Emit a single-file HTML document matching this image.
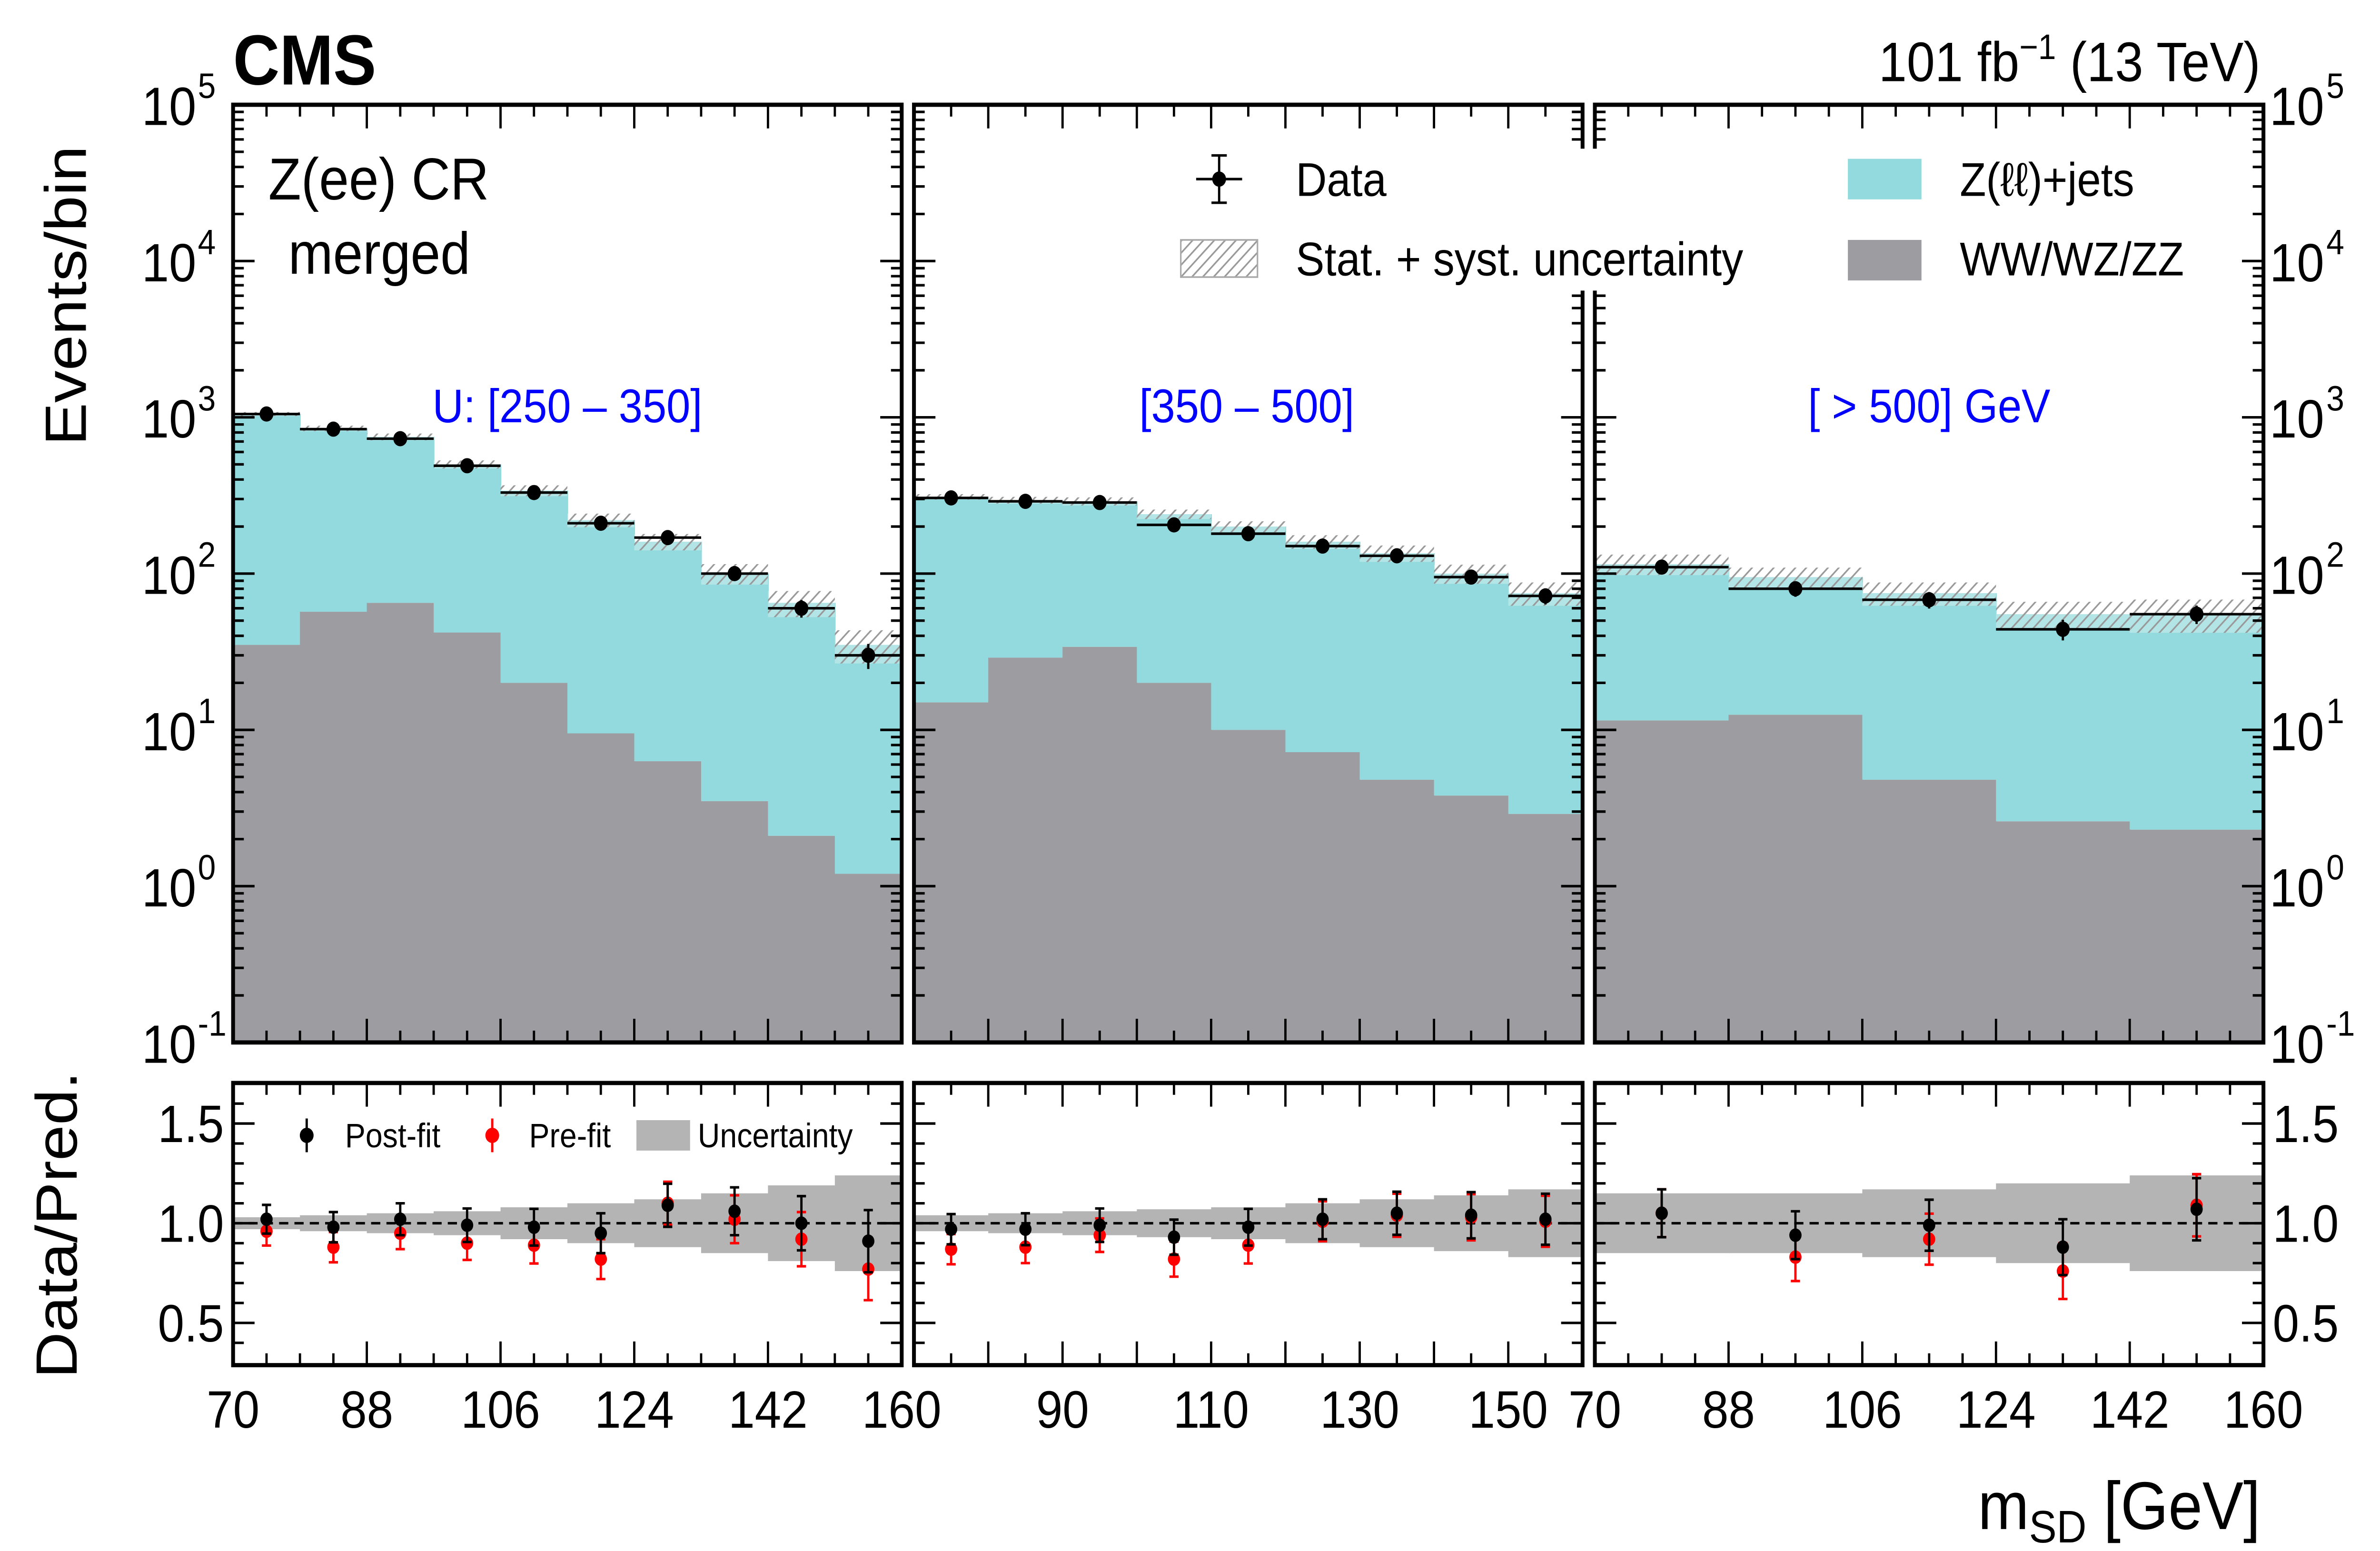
<!DOCTYPE html>
<html><head><meta charset="utf-8">
<style>
html,body{margin:0;padding:0;background:#fff;width:100%;height:100%;overflow:hidden}
svg{position:fixed;left:0;top:0;width:100vw;height:100vh;display:block;font-family:"Liberation Sans",sans-serif}
</style></head><body>
<svg id="c" xmlns="http://www.w3.org/2000/svg" viewBox="0 0 1552 918" preserveAspectRatio="none">
<defs>
<pattern id="hatch" patternUnits="userSpaceOnUse" width="5" height="5" patternTransform="rotate(45)">
<rect width="5" height="5" fill="#fff" fill-opacity="0.3"/><line x1="0" y1="0" x2="0" y2="5" stroke="#999" stroke-width="2"/></pattern>
</defs>
<g id="g"></g>
</svg>
<script>
// ---- data ----
const p1Total=[1050,850,750,500,340,220,160,100,65,35];
const p1VV=[35,57,65,42,20,9.5,6.3,3.5,2.1,1.2];
const p1Data=[1050,840,730,490,330,210,170,100,60,30];
const p1Post=[1.02,0.98,1.02,0.99,0.98,0.95,1.09,1.06,1.0,0.91];
const p1Pre=[0.96,0.88,0.95,0.9,0.89,0.82,1.1,1.02,0.92,0.77];
const p1Unc=[0.03,0.04,0.05,0.06,0.08,0.1,0.12,0.15,0.19,0.24];
const p2Total=[310,295,290,240,200,160,135,100,75];
const p2VV=[15,29,34,20,10,7.2,4.8,3.8,2.9];
const p2Data=[305,290,285,205,180,150,130,95,72];
const p2Post=[0.97,0.97,0.99,0.93,0.98,1.02,1.05,1.04,1.02];
const p2Pre=[0.87,0.88,0.94,0.82,0.89,1.01,1.04,1.03,1.01];
const p2Unc=[0.04,0.05,0.06,0.07,0.08,0.1,0.12,0.14,0.17];
const p3Total=[115,95,75,55,55];
const p3VV=[11.5,12.5,4.8,2.6,2.3];
const p3Data=[110,80,68,44,55];
const p3Post=[1.05,0.94,0.99,0.88,1.07];
const p3Pre=[1.05,0.83,0.92,0.76,1.09];
const p3Unc=[0.15,0.15,0.17,0.2,0.24];
const p1Ticks=[70,88,106,124,142,160];
const p2Ticks=[90,110,130,150];
const p3Ticks=[70,88,106,124,142,160];
// ---- layout ----
const NS="http://www.w3.org/2000/svg";
const G=document.getElementById('g');
function el(t,a,txt){const e=document.createElementNS(NS,t);for(const k in a)e.setAttribute(k,a[k]);if(txt!==undefined)e.textContent=txt;G.appendChild(e);return e;}
const YT=62,YB=617,RT=641,RB=808;
function yLog(v){return YB-(Math.log10(v)+1)*(YB-YT)/6;}
function yR(r){return 724-(r-1)*118;}
const panels=[
 {x0:152,x1:588,tot:p1Total,vv:p1VV,dat:p1Data,post:p1Post,pre:p1Pre,unc:p1Unc,ticks:p1Ticks},
 {x0:596,x1:1032,tot:p2Total,vv:p2VV,dat:p2Data,post:p2Post,pre:p2Pre,unc:p2Unc,ticks:p2Ticks},
 {x0:1040,x1:1476,tot:p3Total,vv:p3VV,dat:p3Data,post:p3Post,pre:p3Pre,unc:p3Unc,ticks:p3Ticks}];
panels.forEach((p,pi)=>{
 const n=p.tot.length,w=(p.x1-p.x0)/n;
 const xm=v=>p.x0+(v-70)/90*(p.x1-p.x0);
 for(let i=0;i<n;i++){
  const xa=p.x0+i*w;
  let r=el('rect',{x:xa,y:yLog(p.vv[i]),width:w+0.5,height:YB-yLog(p.vv[i]),fill:'#9c9ca1'});
  
  r=el('rect',{x:xa,y:yLog(p.tot[i]),width:w+0.5,height:yLog(p.vv[i])-yLog(p.tot[i]),fill:'#92dadd'});
  
  const hu=p.tot[i]*(1+p.unc[i]),hl=p.tot[i]*(1-p.unc[i]);
  r=el('rect',{x:xa,y:yLog(hu),width:w,height:yLog(hl)-yLog(hu),fill:'url(#hatch)'});
  
  const d=p.dat[i],e=Math.sqrt(d),cx=xa+w/2,cy=yLog(d);
  el('line',{x1:xa,x2:xa+w,y1:cy,y2:cy,stroke:'#000','stroke-width':1.5});
  el('line',{x1:cx,x2:cx,y1:yLog(d+e),y2:yLog(d-e),stroke:'#000','stroke-width':1.5});
  const c=el('circle',{cx:cx,cy:cy,r:4.5,fill:'#000'});
  
  r=el('rect',{x:xa,y:yR(1+p.unc[i]),width:w+0.5,height:yR(1-p.unc[i])-yR(1+p.unc[i]),fill:'#b4b4b4'});
  
 }
 el('line',{x1:p.x0,x2:p.x1,y1:yR(1),y2:yR(1),stroke:'#000','stroke-width':1.5,'stroke-dasharray':'6,4'});
 for(let i=0;i<n;i++){
  const cx=p.x0+(i+0.5)*w,er=0.06+p.unc[i]*0.4;
  [[p.pre[i],'#f00','prefit-point'],[p.post[i],'#000','postfit-point']].forEach(([v,col,nm])=>{
   el('line',{x1:cx,x2:cx,y1:yR(v+er),y2:yR(v-er),stroke:col,'stroke-width':1.5});
   el('line',{x1:cx-3,x2:cx+3,y1:yR(v+er),y2:yR(v+er),stroke:col,'stroke-width':1.5});
   el('line',{x1:cx-3,x2:cx+3,y1:yR(v-er),y2:yR(v-er),stroke:col,'stroke-width':1.5});
   const c=el('circle',{cx:cx,cy:yR(v),r:4,fill:col});
   
  });
 }
 el('rect',{x:p.x0,y:YT,width:p.x1-p.x0,height:YB-YT,fill:'none',stroke:'#000','stroke-width':2.5});
 el('rect',{x:p.x0,y:RT,width:p.x1-p.x0,height:RB-RT,fill:'none',stroke:'#000','stroke-width':2.5});
 for(let v=70;v<=160;v+=(pi==1?5:4.5)){
  const x=xm(v),maj=pi==1?(v%10==0):(Math.abs(((v-70)/18)-Math.round((v-70)/18))<1e-6);
  const L=maj?14:7;
  el('line',{x1:x,x2:x,y1:YB,y2:YB-L,stroke:'#000','stroke-width':1.5});
  el('line',{x1:x,x2:x,y1:RB,y2:RB-L,stroke:'#000','stroke-width':1.5});
  el('line',{x1:x,x2:x,y1:YT,y2:YT+L,stroke:'#000','stroke-width':1.5});
  el('line',{x1:x,x2:x,y1:RT,y2:RT+L,stroke:'#000','stroke-width':1.5});
 }
 p.ticks.forEach(v=>{const t=el('text',{x:xm(v),y:845,'font-size':31,'text-anchor':'middle'},String(v));
  });
 for(let d=-1;d<5;d++)for(let m=1;m<10;m++){
  const y=yLog(m*Math.pow(10,d)),L=m==1?14:7;
  el('line',{x1:p.x0,x2:p.x0+L,y1:y,y2:y,stroke:'#000','stroke-width':1.5});
  el('line',{x1:p.x1,x2:p.x1-L,y1:y,y2:y,stroke:'#000','stroke-width':1.5});
 }
 for(let r=0.4;r<1.75;r+=0.1){const y=yR(r),maj=Math.abs(r*2-Math.round(r*2))<1e-6,L=maj?14:7;
  el('line',{x1:p.x0,x2:p.x0+L,y1:y,y2:y,stroke:'#000','stroke-width':1.5});
  el('line',{x1:p.x1,x2:p.x1-L,y1:y,y2:y,stroke:'#000','stroke-width':1.5});}
});
for(let d=-1;d<=5;d++){const y=yLog(Math.pow(10,d));
 let t=el('text',{x:128,y:y+12,'font-size':32,'text-anchor':'end'},'10');
 el('text',{x:129,y:y-4,'font-size':21},String(d));
 t=el('text',{x:1480,y:y+12,'font-size':32},'10');
 el('text',{x:1517,y:y-4,'font-size':21},String(d));}
[1.5,1.0,0.5].forEach(v=>{
 el('text',{x:146,y:yR(v)+11,'font-size':31,'text-anchor':'end'},v.toFixed(1));
 el('text',{x:1482,y:yR(v)+11,'font-size':31},v.toFixed(1));});
</script>
<script>
(function(){
const NS="http://www.w3.org/2000/svg",G=document.getElementById('g');
function t(x,y,s,txt,nm,extra){const e=document.createElementNS(NS,'text');e.setAttribute('x',x);e.setAttribute('y',y);e.setAttribute('font-size',s);
 for(const k in (extra||{}))e.setAttribute(k,extra[k]);e.textContent=txt;
 
 
 G.appendChild(e);return e;}
function r(x,y,w,h,f,nm){const e=document.createElementNS(NS,'rect');e.setAttribute('x',x);e.setAttribute('y',y);e.setAttribute('width',w);e.setAttribute('height',h);e.setAttribute('fill',f);
 
 
 G.appendChild(e);return e;}
function l(x1,y1,x2,y2,c){const e=document.createElementNS(NS,'line');e.setAttribute('x1',x1);e.setAttribute('y1',y1);e.setAttribute('x2',x2);e.setAttribute('y2',y2);e.setAttribute('stroke',c);e.setAttribute('stroke-width',1.5);G.appendChild(e);}
function c(x,y,col){const e=document.createElementNS(NS,'circle');e.setAttribute('cx',x);e.setAttribute('cy',y);e.setAttribute('r',4.5);e.setAttribute('fill',col);G.appendChild(e);}
t(152,50,42,'CMS','cms-label',{'font-weight':'bold'});
t(1474,48,33,'','lumi-label',{'text-anchor':'end'}).innerHTML='101 fb<tspan font-size="21" dy="-13">−1</tspan><tspan dy="13"> (13 TeV)</tspan>';
t(56,175,38,'Events/bin','y-axis-title',{'text-anchor':'middle',transform:'rotate(-90 56 175)'});
t(50,725,38,'Data/Pred.','ratio-axis-title',{'text-anchor':'middle',transform:'rotate(-90 50 725)'});
t(1474,905,40,'','x-axis-title',{'text-anchor':'end'}).innerHTML='m<tspan font-size="27" dy="8">SD</tspan><tspan dy="-8"> [GeV]</tspan>';
t(175,118,35,'Z(ee) CR','region-label');
t(188,162,35,'merged','category-label');
t(370,250,28,'U: [250 – 350]','bin-label-1',{'text-anchor':'middle',fill:'#0000ff'});
t(813,250,28,'[350 – 500]','bin-label-2',{'text-anchor':'middle',fill:'#0000ff'});
t(1258,250,28,'[ > 500] GeV','bin-label-3',{'text-anchor':'middle',fill:'#0000ff'});
r(765,88,410,84,'#fff','legend-background');
r(1190,88,270,84,'#fff','legend-background-2');
l(780,106,810,106,'#000');l(795,92,795,120,'#000');l(790,92,800,92,'#000');l(790,120,800,120,'#000');c(795,106,'#000');
t(845,116,28,'Data','legend-data');
const h=r(770,142,50,22,'url(#hatch)','legend-unc-swatch');h.setAttribute('stroke','#aaa');
t(845,163,28,'Stat. + syst. uncertainty','legend-unc');
r(1205,94,48,24,'#92dadd','legend-zll-swatch');t(1278,116,28,'Z(ℓℓ)+jets','legend-zll');
r(1205,142,48,24,'#9c9ca1','legend-vv-swatch');t(1278,163,28,'WW/WZ/ZZ','legend-vv');
l(200,662,200,682,'#000');c(200,672,'#000');t(225,679,20,'Post-fit','legend-postfit');
l(321,662,321,682,'#f00');c(321,672,'#f00');t(345,679,20,'Pre-fit','legend-prefit');
r(415,663,35,18,'#b4b4b4','legend-ratio-unc-swatch');t(455,679,20,'Uncertainty','legend-ratio-unc');
})();
</script>
</body></html>
